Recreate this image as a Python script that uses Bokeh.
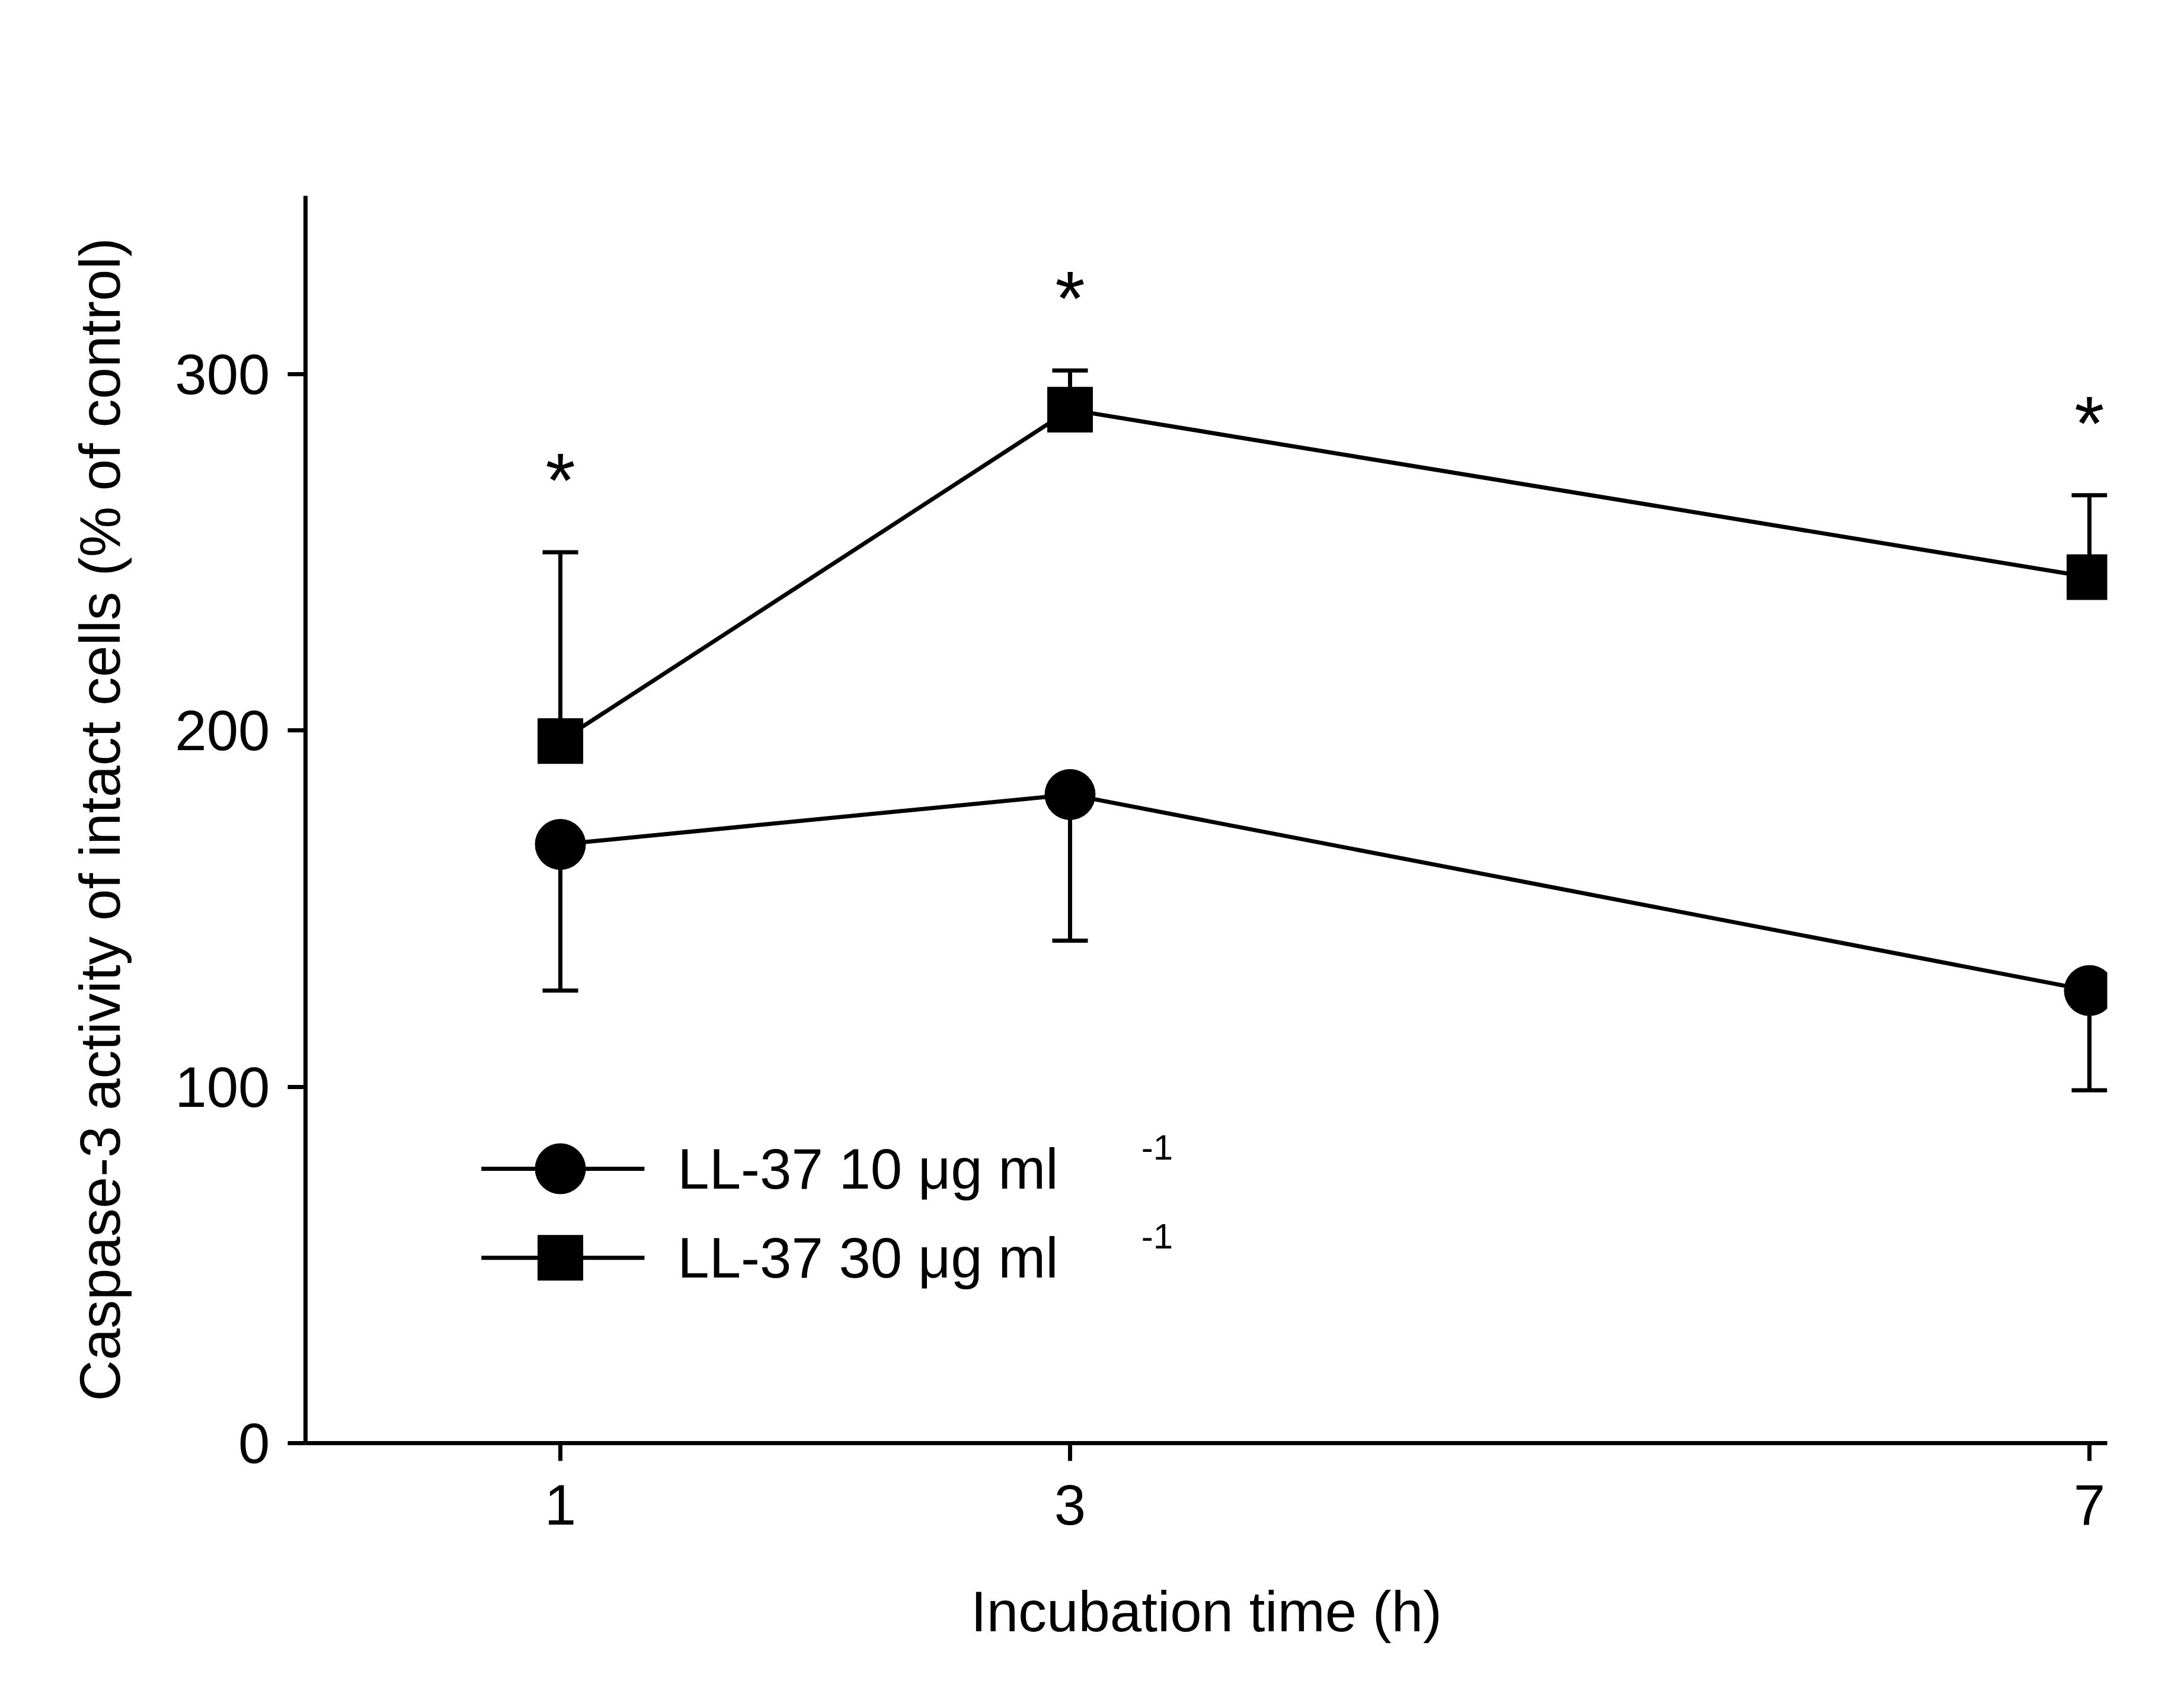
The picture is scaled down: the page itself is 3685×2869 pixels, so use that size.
from bokeh.plotting import figure
from bokeh.models import Whisker, ColumnDataSource, Range1d, FixedTicker
from bokeh.embed import file_html
from bokeh.resources import INLINE
from bokeh.core.properties import value

times = [1, 3, 7]
mean10 = [168, 182, 127]
low10 = [127, 141, 99]
mean30 = [197, 290, 243]
high30 = [250, 301, 266]
x_ticks = [1, 3, 7]
y_ticks = [0, 100, 200, 300]
labels = ["LL-37 10 \u03bcg ml", "LL-37 30 \u03bcg ml"]

F = "Liberation Sans"
p = figure(width=3660, height=2840, output_backend="svg", toolbar_location=None,
           x_range=Range1d(0, 7.07), y_range=Range1d(0, 350),
           min_border_left=515, min_border_right=105, min_border_top=330, min_border_bottom=405)
p.grid.visible = False
p.outline_line_color = None
p.background_fill_color = "white"
for ax in (p.xaxis[0], p.yaxis[0]):
    ax.axis_line_width = 7
    ax.major_tick_line_width = 7
    ax.major_tick_out = 30
    ax.major_tick_in = 0
    ax.minor_tick_line_color = None
    ax.major_label_text_font = F
    ax.major_label_text_font_size = "96px"
    ax.major_label_text_color = "black"
    ax.axis_label_text_font = F
    ax.axis_label_text_font_size = "96px"
    ax.axis_label_text_font_style = "normal"
    ax.axis_label_text_color = "black"
p.xaxis.ticker = FixedTicker(ticks=x_ticks)
p.yaxis.ticker = FixedTicker(ticks=y_ticks)
p.xaxis.axis_label = "Incubation time (h)"
p.yaxis.axis_label = "Caspase-3 activity of intact cells (% of control)"
p.xaxis.major_label_standoff = 40
p.yaxis.major_label_standoff = 30
p.xaxis.axis_label_standoff = 90
p.yaxis.axis_label_standoff = 70

s10 = ColumnDataSource(dict(x=times, m=mean10, lo=low10))
s30 = ColumnDataSource(dict(x=times, m=mean30, hi=high30))
p.add_layout(Whisker(source=s10, base="x", upper="m", lower="lo", dimension="height",
                     line_width=7, upper_head=None,
                     lower_head=None))
w1 = Whisker(source=s10, base="x", upper="m", lower="lo", line_width=7)
w1.upper_head = None
w1.lower_head.size = 60
w1.lower_head.line_width = 7
p.add_layout(w1)
w2 = Whisker(source=s30, base="x", upper="hi", lower="m", line_width=7)
w2.lower_head = None
w2.upper_head.size = 60
w2.upper_head.line_width = 7
p.add_layout(w2)

p.line(times, mean10, line_width=7, color="black")
p.line(times, mean30, line_width=7, color="black")
p.scatter(times, mean10, marker="circle", size=85, color="black")
p.scatter(times, mean30, marker="square", size=76, color="black")

p.text([t for t in times], [h + 8 for h in high30], text=["*"] * 3, text_font=value(F),
       text_font_size="130px", text_align="center", text_baseline="bottom", text_color="black")

# legend
ly = [77, 52]
p.line([0.69, 1.33], [ly[0]] * 2, line_width=7, color="black")
p.line([0.69, 1.33], [ly[1]] * 2, line_width=7, color="black")
p.scatter([1.0], [ly[0]], marker="circle", size=85, color="black")
p.scatter([1.0], [ly[1]], marker="square", size=76, color="black")
p.text([1.46, 1.46], ly, text=labels, text_font=value(F), text_font_size="96px",
       text_baseline="middle", text_color="black")
p.text([3.28, 3.28], [y + 6 for y in ly], text=["-1", "-1"], text_font=value(F), text_font_size="60px",
       text_baseline="middle", text_color="black")

open("out.html", "w").write(file_html(p, INLINE))
